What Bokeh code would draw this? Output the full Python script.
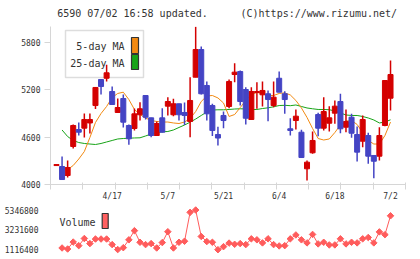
import math
import numpy as np
from bokeh.plotting import figure
from bokeh.layouts import column
from bokeh.models import Range1d, FixedTicker, Label, ColumnDataSource, NumeralTickFormatter
from bokeh.embed import file_html
from bokeh.resources import INLINE

# ---------------- data ----------------
opens = [4240, 4228, 4114, 4482, 4697, 4714, 4780, 5001, 5331, 5347,
         5179, 4913, 5090, 4748, 4710, 4884, 5128, 4845, 4621, 4845,
         4993, 4884, 5023, 4913, 4799, 5360, 5711, 5255, 5001, 4634,
         4875, 4989, 5394, 5432, 5204, 4824, 5166, 5137, 5150, 5001,
         5347, 5150, 4706, 4811, 4663, 4199, 4402, 4887, 4714, 4777,
         4904, 5052, 4726, 4853, 4634, 4549, 4621, 4368, 4359, 4748, 5094]
highs = [4253, 4355, 4304, 4760, 4786, 4900, 4900, 5235, 5331, 5517,
         5242, 5090, 5141, 4761, 4963, 5043, 5130, 4845, 4799, 4967,
         5107, 5086, 5023, 5039, 5360, 6000, 5749, 5306, 5023, 4731,
         4925, 5331, 5538, 5445, 5233, 5233, 5297, 5306, 5192, 5306,
         5432, 5183, 4840, 4951, 4693, 4304, 4672, 4909, 5107, 4993,
         5065, 5150, 4951, 4896, 4735, 4875, 4655, 4368, 4727, 5318, 5572]
lows = [4240, 4063, 4089, 4456, 4621, 4596, 4646, 4957, 5141, 5306,
        5010, 4905, 4723, 4503, 4685, 4811, 4824, 4600, 4615, 4660,
        4875, 4866, 4810, 4754, 4600, 5360, 5140, 4811, 4615, 4494,
        4714, 4967, 5297, 5001, 4761, 4820, 4960, 4989, 4802, 4980,
        5170, 4896, 4621, 4697, 4340, 4051, 4389, 4612, 4685, 4672,
        4769, 4650, 4663, 4592, 4292, 4473, 4262, 4080, 4304, 4739, 4938]
closes = [4253, 4063, 4215, 4748, 4663, 4824, 4824, 5230, 5242, 5416,
          5014, 4976, 4790, 4579, 4896, 4960, 4853, 4621, 4773, 4663,
          5052, 5023, 4884, 4875, 5065, 5711, 5150, 4896, 4685, 4589,
          4811, 5306, 5424, 5052, 4840, 5179, 5179, 5192, 5077, 5107,
          5170, 5077, 4685, 4866, 4342, 4283, 4558, 4714, 4925, 4845,
          4993, 4706, 4799, 4650, 4410, 4824, 4359, 4295, 4621, 5318, 5394]
nan = float("nan")
ma5 = [nan, nan, 4190, 4241, 4323, 4418, 4596, 4786, 4900, 4989,
       5103, 5154, 5170, 5077, 4951, 4887, 4843, 4811, 4799, 4792,
       4792, 4780, 4773, 4792, 4837, 4925, 5052, 5122, 5128, 5097,
       5033, 4862, 4887, 4975, 5065, 5141, 5166, 5154, 5128, 5128,
       5154, 5162, 5135, 5065, 4970, 4850, 4710, 4583, 4564, 4577,
       4659, 4754, 4805, 4811, 4761, 4659, 4558, 4513, 4513, 4621, 4792]
ma25 = [nan, 4691, 4608, 4558, 4532, 4520, 4513, 4507, 4520, 4539,
        4558, 4577, 4583, 4587, 4590, 4592, 4615, 4640, 4659, 4668,
        4672, 4691, 4723, 4754, 4790, 4830, 4875, 4919, 4944, 4947,
        4947, 4951, 4957, 4960, 4957, 4951, 4951, 4963, 4972, 4985,
        5001, 5004, 4999, 5008, 4989, 4970, 4960, 4951, 4951, 4948,
        4932, 4907, 4881, 4875, 4875, 4862, 4843, 4818, 4780, 4792, 4820]
volume = [nan, 1300000, 1192000, 1930000, 1550000, 2310000, 1767000, 2255000, 2255000, 2255000,
          1659000, 1130000, 1333000, 2169000, 3145000, 1908000, 1659000, 1767000, 1301000, 1876000,
          3033000, 1301000, 1908000, 2017000, 5097000, 5346800, 2527000, 1984000, 1908000, 1116400,
          1442000, 1822000, 1691000, 1767000, 1659000, 2277000, 2169000, 1843000, 2277000, 1659000,
          1518000, 1550000, 2277000, 2689000, 2169000, 1843000, 2744000, 1735000, 1908000, 1626000,
          1626000, 2277000, 1735000, 1908000, 1843000, 2277000, 2418000, 1843000, 3015000, 2722000, 4728000]
tick_index = [10, 20, 30, 40, 50, 60]
tick_labels = ["4/17", "5/7", "5/21", "6/4", "6/18", "7/2"]
price_ticks = [4000, 4600, 5200, 5800]
title_left = "6590 07/02 16:58 updated."
title_right = "(C)https://www.rizumu.net/"

# ---------------- styles / layout ----------------
RED = "#d40000"
BLUE = "#4444c4"
ORANGE = "#f28a12"
GREEN = "#18a418"
VOLC = "#ff5c5c"
AXC = "#d6d6d6"
TXT = "#333333"
FONT = "DejaVu Sans Mono"

W = 420
TH = 26                   # title strip height
FL, FR = 50, 405          # frame left/right px
FT, FB = 26, 184          # price frame top/bottom px (canvas)
PB = 203                  # canvas px where price figure ends
SLOT = 5.567              # px per candle
FIRST = 56                # px of first candle
PX_PER_YEN = 142 / 1800

x0 = (FL - FIRST) / SLOT
x1 = (FR - FIRST) / SLOT
xr = Range1d(x0, x1)
y_lo = 4000
y_hi = y_lo + (FB - FT) / PX_PER_YEN


def jx(px):
    return (px - FIRST) / SLOT


def py(pxy):
    return y_lo + (FB - pxy) / PX_PER_YEN


# ---------------- title strip ----------------
pt = figure(width=W, height=TH, x_range=Range1d(0, W), y_range=Range1d(TH, 0),
            output_backend="svg", toolbar_location=None,
            x_axis_location=None, y_axis_location=None, min_border=0)
pt.outline_line_color = None
pt.xgrid.visible = False
pt.ygrid.visible = False
pt.add_layout(Label(x=8, y=12.5, text=title_left, text_align="left",
                    text_baseline="middle", text_font=FONT,
                    text_font_size="10px", text_color=TXT))
pt.add_layout(Label(x=410, y=12.5, text=title_right, text_align="right",
                    text_baseline="middle", text_font=FONT,
                    text_font_size="10px", text_color=TXT))

# ---------------- price panel ----------------
n = len(opens)
idx = np.arange(n)
o = np.array(opens, float)
c = np.array(closes, float)
h = np.array(highs, float)
l = np.array(lows, float)
up = c >= o

p = figure(width=W, height=PB - TH, x_range=xr, y_range=Range1d(y_lo, y_hi),
           output_backend="svg", toolbar_location=None,
           min_border_left=FL, min_border_right=W - FR, min_border_top=0,
           min_border_bottom=PB - FB)
p.outline_line_color = None
p.xgrid.visible = False
p.ygrid.visible = False
p.background_fill_color = "white"
p.border_fill_color = "white"

p.yaxis.ticker = FixedTicker(ticks=price_ticks)
p.yaxis.axis_line_color = AXC
p.yaxis.major_tick_line_color = AXC
p.yaxis.major_tick_out = 6
p.yaxis.major_tick_in = 0
p.yaxis.minor_tick_line_color = None
p.yaxis.major_label_standoff = 4
p.yaxis.major_label_text_font = FONT
p.yaxis.major_label_text_font_size = "8px"
p.yaxis.major_label_text_color = TXT

p.xaxis.ticker = FixedTicker(ticks=tick_index,
                             minor_ticks=list(np.linspace(x0, x1, 12)))
p.xaxis.major_label_overrides = {j: t for j, t in zip(tick_index, tick_labels)}
p.xaxis.axis_line_color = AXC
p.xaxis.major_tick_line_color = None
p.xaxis.major_tick_out = 0
p.xaxis.major_tick_in = 0
p.xaxis.minor_tick_line_color = AXC
p.xaxis.minor_tick_out = 5
p.xaxis.minor_tick_in = 2
p.xaxis.major_label_standoff = 2
p.xaxis.major_label_text_font = FONT
p.xaxis.major_label_text_font_size = "8px"
p.xaxis.major_label_text_color = TXT

# legend box (under the candles)
p.quad(left=[jx(65)], right=[jx(143)], top=[py(30)], bottom=[py(77)],
       fill_color="white", line_color="#dddddd", line_width=1.5)
p.quad(left=[jx(131)], right=[jx(138)], top=[py(37)], bottom=[py(53)],
       fill_color=ORANGE, line_color="#333333", line_width=1.2)
p.quad(left=[jx(131)], right=[jx(138)], top=[py(54)], bottom=[py(69)],
       fill_color=GREEN, line_color="#333333", line_width=1.2)
for txt, yy in (("5-day MA", 46), ("25-day MA", 63)):
    p.add_layout(Label(x=jx(124), y=py(yy), text=txt, text_align="right",
                       text_baseline="middle", text_font=FONT,
                       text_font_size="10px", text_color=TXT))

# MA lines
p.line(idx, ma25, line_color=GREEN, line_width=1)
p.line(idx, ma5, line_color=ORANGE, line_width=1)

# candles
for mask, col in ((up, RED), (~up, BLUE)):
    src = ColumnDataSource(dict(x=idx[mask], hi=h[mask], lo=l[mask],
                                top=np.maximum(o, c)[mask],
                                bot=np.minimum(o, c)[mask]))
    p.segment(x0="x", y0="lo", x1="x", y1="hi", source=src,
              line_color=col, line_width=1.5)
    p.vbar(x="x", top="top", bottom="bot", width=0.9, source=src,
           fill_color=col, line_color=col, line_width=1)

# ---------------- volume panel ----------------
VH = 259 - PB
VT, VB = PB, 256           # canvas px of volume frame
VMAXPX, VMINPX = 209.5, 249.2
vol = np.array(volume, float)
vmin = np.nanmin(vol)
vmax = np.nanmax(vol)
s = (vmax - vmin) / (VMINPX - VMAXPX)
v_hi = vmax + (VMAXPX - VT) * s
v_lo = vmin - (VB - VMINPX) * s


def vy(pxy):
    return vmax - (pxy - VMAXPX) * s


pv = figure(width=W, height=VH, x_range=xr, y_range=Range1d(v_lo, v_hi),
            output_backend="svg", toolbar_location=None, x_axis_location=None,
            min_border_left=FL, min_border_right=W - FR,
            min_border_top=0, min_border_bottom=259 - VB)
pv.outline_line_color = None
pv.xgrid.visible = False
pv.ygrid.visible = False
pv.yaxis.ticker = FixedTicker(ticks=[vmin, (vmin + vmax) / 2, vmax])
pv.yaxis.formatter = NumeralTickFormatter(format="0")
pv.yaxis.axis_line_color = None
pv.yaxis.major_tick_line_color = None
pv.yaxis.minor_tick_line_color = None
pv.yaxis.major_label_standoff = 6
pv.yaxis.major_label_text_font = FONT
pv.yaxis.major_label_text_font_size = "8px"
pv.yaxis.major_label_text_color = TXT

pv.line(idx, vol, line_color=VOLC, line_width=1)
pv.scatter(idx, vol, marker="square", size=4.6, angle=math.pi / 4,
           fill_color=VOLC, line_color=VOLC)

pv.add_layout(Label(x=jx(59), y=vy(222), text="Volume", text_align="left",
                    text_baseline="middle", text_font=FONT,
                    text_font_size="10px", text_color=TXT))
pv.quad(left=[jx(101.7)], right=[jx(107.7)], top=[vy(213)], bottom=[vy(228)],
        fill_color="#ff6060", line_color="#333333", line_width=1.2)

layout = column(pt, p, pv, spacing=0)
open("out.html", "w").write(file_html(layout, INLINE))
